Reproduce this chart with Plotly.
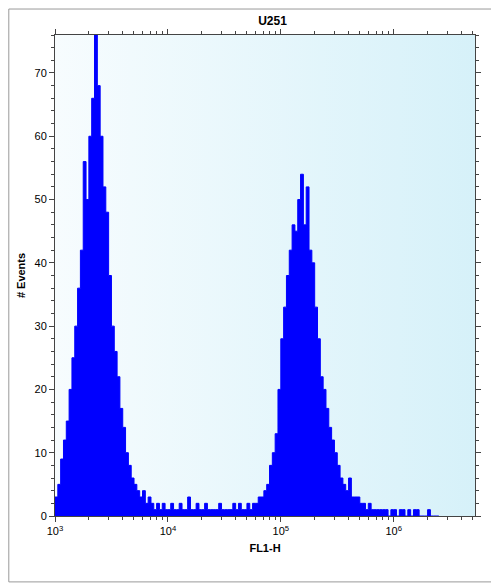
import plotly.graph_objects as go
import numpy as np

# histogram counts, log10 bins of 0.025 starting at 10^3
log_start = 3.0
log_step = 0.025
counts = [3, 5, 9, 12, 15, 20, 25, 30, 36, 42, 56, 50, 60, 66, 76, 68,
          60, 52, 48, 38, 30, 26, 22, 17, 14, 10, 8, 6, 5, 4, 3, 4,
          2, 3, 2, 1, 2, 1, 2, 1, 1, 2, 1, 1, 2, 1, 1, 3,
          1, 1, 2, 1, 1, 2, 1, 1, 1, 1, 2, 1, 1, 1, 1, 2,
          1, 2, 1, 1, 2, 1, 2, 2, 3, 3, 4, 5, 8, 10, 13, 20, 28, 33, 38,
          42, 46, 45, 50, 54, 46, 52, 42, 40, 33, 28, 22, 20, 17, 14, 12,
          10, 8, 6, 5, 4, 6, 3, 3, 3, 2, 2, 1, 2, 1, 1, 1,
          1, 1, 1, 0, 1, 1, 0, 1, 1, 0, 1, 0, 1, 1, 0, 0,
          0, 1, 0, 0, 0]
title = "U251"
x_title = "FL1-H"
y_title = "# Events"
x_ticks = [1e3, 1e4, 1e5, 1e6]
x_tick_text = ["10<sup>3</sup>", "10<sup>4</sup>", "10<sup>5</sup>", "10<sup>6</sup>"]

edges = 10 ** (log_start + log_step * np.arange(len(counts) + 1))
xs = list(edges)
ys = counts + [counts[-1]]

x_max = 10 ** 6.72
y_max = 76

minor_vals = [m * 10 ** d for d in range(3, 7) for m in range(2, 10) if m * 10 ** d < x_max]

fig = go.Figure()
# gradient background
fig.add_trace(go.Scatter(x=[1e3, x_max, x_max, 1e3, 1e3], y=[0, 0, y_max, y_max, 0],
                         mode="lines", line=dict(width=0), fill="toself",
                         fillgradient=dict(type="horizontal",
                                           colorscale=[[0, "#f7fcfe"], [1, "#d6f1f9"]]),
                         hoverinfo="skip", showlegend=False))
fig.add_trace(go.Scatter(x=xs, y=ys, mode="lines", line=dict(shape="hv", color="#0000ff", width=1),
                         fill="tozeroy", fillcolor="#0000ff", showlegend=False))

# page body adds ~8px offset, so margins are shifted to compensate
fig.update_layout(
    width=499, height=583,
    paper_bgcolor="white", plot_bgcolor="#e8f7fb",
    margin=dict(l=47, r=32, t=27, b=75, autoexpand=False),
    title=dict(text="<b>" + title + "</b>", x=0.53, y=0.986, xanchor="center",
               font=dict(family="Arial, Liberation Sans", size=12, color="black")),
    font=dict(family="Arial, Liberation Sans", size=11, color="black"),
    showlegend=False,
)
fig.update_xaxes(type="log", range=[3, 6.72], tickvals=x_ticks, ticktext=x_tick_text,
                 ticks="outside", ticklen=5, showgrid=False, zeroline=False, automargin=False,
                 showline=True, linecolor="#444", mirror="ticks",
                 minor=dict(tickvals=minor_vals, ticks="outside", ticklen=3, tickcolor="#444"),
                 title=dict(text="<b>" + x_title + "</b>", standoff=8, font=dict(size=11)))
fig.update_yaxes(range=[0, y_max], dtick=10, ticks="outside", ticklen=5, showgrid=False,
                 zeroline=False, showline=True, linecolor="#444", mirror="ticks", automargin=False,
                 minor=dict(dtick=2, ticks="outside", ticklen=3, tickcolor="#444"),
                 title=dict(text="<b>" + y_title + "</b>", standoff=6, font=dict(size=11)))
fig.add_shape(type="rect", xref="paper", yref="paper", x0=-0.11, x1=1.057, y0=-0.137, y1=1.054,
              line=dict(color="#999", width=1))
fig.write_html("out.html")
